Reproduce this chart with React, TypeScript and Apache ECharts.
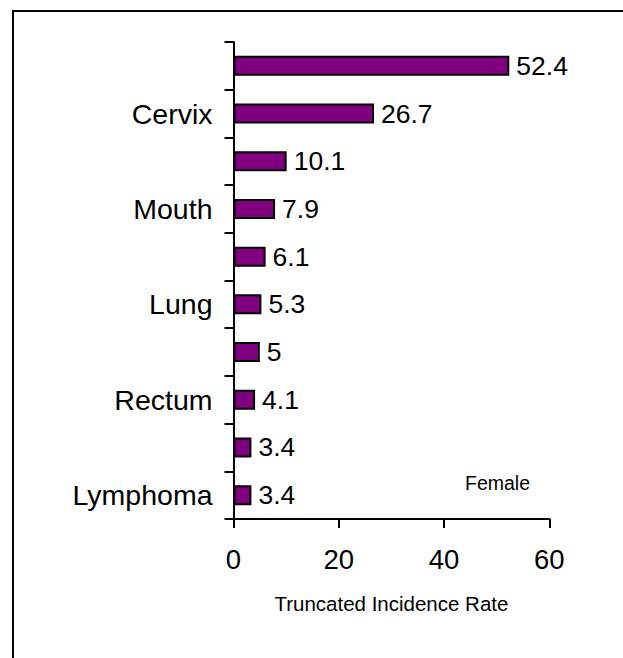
import React, { useEffect, useRef } from "react";
import * as echarts from "echarts";

const categories = ["", "Cervix", "", "Mouth", "", "Lung", "", "Rectum", "", "Lymphoma"];
const values = [52.4, 26.7, 10.1, 7.9, 6.1, 5.3, 5, 4.1, 3.4, 3.4];
const xMin = 0;
const xMax = 60;
const xInterval = 20;
const xName = "Truncated Incidence Rate";
const noteText = "Female";

const FONT = "'Liberation Sans', Arial, sans-serif";

export default function App() {
  const ref = useRef<HTMLDivElement>(null);
  useEffect(() => {
    if (!ref.current) return;
    const chart = echarts.init(ref.current, undefined, { renderer: "svg" });
    chart.setOption({
      animation: false,
      backgroundColor: "#ffffff",
      grid: { left: 233.5, top: 42, right: 73.7, bottom: 139, containLabel: false },
      xAxis: {
        type: "value",
        min: xMin,
        max: xMax,
        interval: xInterval,
        name: xName,
        nameLocation: "middle",
        nameGap: 74,
        nameTextStyle: { fontFamily: FONT, fontSize: 20.5, color: "#000" },
        axisLine: { show: true, lineStyle: { color: "#000", width: 2 } },
        axisTick: { show: true, length: 9, lineStyle: { color: "#000", width: 2 } },
        axisLabel: { fontFamily: FONT, fontSize: 27.5, color: "#000", margin: 26 },
        splitLine: { show: false },
      },
      yAxis: {
        type: "category",
        data: categories,
        inverse: true,
        axisLine: { show: true, lineStyle: { color: "#000", width: 2 } },
        axisTick: { show: true, length: 9, interval: 0, lineStyle: { color: "#000", width: 2 } },
        axisLabel: { fontFamily: FONT, fontSize: 28.5, color: "#000", margin: 21, interval: 0 },
      },
      series: [
        {
          type: "bar",
          data: values,
          barWidth: 20,
          itemStyle: { color: "#800080", borderColor: "#000", borderWidth: 2 },
          label: {
            show: true,
            position: "right",
            distance: 7,
            fontFamily: FONT,
            fontSize: 26.5,
            color: "#000",
          },
        },
      ],
      graphic: [
        { type: "line", shape: { x1: 13, y1: 11, x2: 13, y2: 658 }, style: { stroke: "#000", lineWidth: 2 } },
        { type: "line", shape: { x1: 12, y1: 11, x2: 623, y2: 11 }, style: { stroke: "#000", lineWidth: 2 } },
        {
          type: "text",
          x: 497.5,
          y: 483,
          style: { text: noteText, fontFamily: FONT, fontSize: 19.5, fill: "#000", align: "center", verticalAlign: "middle" },
        },
      ],
    });
    return () => chart.dispose();
  }, []);
  return <div ref={ref} style={{ position: "fixed", left: 0, top: 0, width: 623, height: 658 }} />;
}
